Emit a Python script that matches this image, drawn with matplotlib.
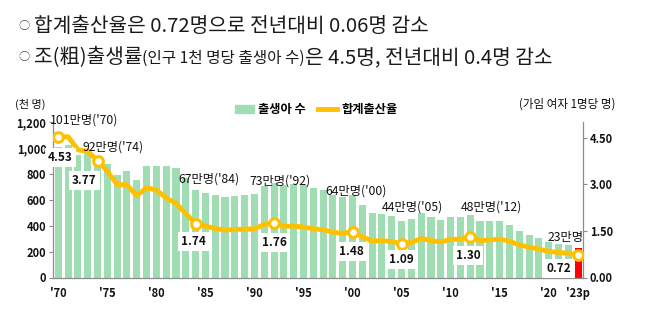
import matplotlib
matplotlib.use("Agg")
import matplotlib.pyplot as plt
from matplotlib.lines import Line2D
from matplotlib.patches import Patch

plt.rcParams['font.family'] = ['Noto Sans CJK KR', 'DejaVu Sans']

years = list(range(1970, 2024))
births = [1007, 1025, 952, 967, 922, 875, 797, 826, 751, 863,
          863, 867, 848, 770, 675, 656, 636, 624, 633, 639,
          650, 709, 731, 716, 721, 715, 691, 675, 641, 620,
          640, 559, 497, 495, 476, 438, 452, 496, 466, 445,
          470, 471, 485, 437, 435, 438, 406, 358, 327, 303,
          272, 261, 249, 230]
tfr = [4.53, 4.54, 4.12, 4.07, 3.77, 3.43, 3.00, 2.99, 2.64, 2.90,
       2.82, 2.57, 2.39, 2.06, 1.74, 1.66, 1.58, 1.53, 1.55, 1.56,
       1.57, 1.71, 1.76, 1.65, 1.66, 1.63, 1.57, 1.54, 1.46, 1.43,
       1.48, 1.31, 1.18, 1.19, 1.16, 1.09, 1.13, 1.26, 1.19, 1.15,
       1.23, 1.24, 1.30, 1.19, 1.21, 1.24, 1.17, 1.05, 0.98, 0.92,
       0.84, 0.81, 0.78, 0.72]
xtick_years = [1970, 1975, 1980, 1985, 1990, 1995, 2000, 2005, 2010, 2015, 2020, 2023]
xtick_labels = ["'70", "'75", "'80", "'85", "'90", "'95", "'00", "'05", "'10", "'15", "'20", "'23p"]
left_ticks = [0, 200, 400, 600, 800, 1000, 1200]
left_tick_labels = ['0', '200', '400', '600', '800', '1,000', '1,200']
right_ticks = [0.0, 1.5, 3.0, 4.5]
right_tick_labels = ['0.00', '1.50', '3.00', '4.50']
marked_years = [1970, 1974, 1984, 1992, 2000, 2005, 2012, 2023]
birth_labels = ["101만명('70)", "92만명('74)", "67만명('84)", "73만명('92)",
                "64만명('00)", "44만명('05)", "48만명('12)", "23만명"]
tfr_labels = ['4.53', '3.77', '1.74', '1.76', '1.48', '1.09', '1.30', '0.72']
# offsets (pixels) of annotation text centres from the marker
birth_off = [(26, 17), (16, 14), (13, 45), (6, 42), (4, 41), (11, 37), (21, 30), (-13, 18)]
tfr_off = [(2, -20), (-13, -20), (-2, -18), (0, -20), (-1, -20), (0, -16), (-2, -18), (-19, -13)]

green = '#a1ddb3'
gold = '#FFC000'
red = '#FF0000'
txt = '#111111'
spine_c = '#8c8c8c'

fig = plt.figure(figsize=(6.45, 3.22), dpi=100)
ax = fig.add_axes([53.4 / 645, 1 - 277.5 / 322, (583 - 53.4) / 645, 155 / 322])
ax2 = ax.twinx()

xs = list(range(len(years)))
colors = [green] * (len(years) - 1) + [red]
ax.bar(xs, births, width=0.72, color=colors, zorder=1)
ax.set_ylim(0, 1200)
ax.set_xlim(-0.5, len(years) - 0.5)
ax.set_yticks(left_ticks)
ax.set_yticklabels(left_tick_labels, fontsize=8, fontweight='bold', color=txt)
ax.set_xticks([years.index(y) for y in xtick_years])
ax.set_xticklabels(xtick_labels, fontsize=8, fontweight='bold', color=txt)
ax.tick_params(axis='x', length=0, pad=7)
ax.tick_params(axis='y', length=3, color=spine_c, pad=2)

ax2.plot(xs, tfr, color=gold, lw=3.5, solid_joinstyle='round', zorder=3)
mx = [years.index(y) for y in marked_years]
my = [tfr[i] for i in mx]
ax2.plot(mx, my, 'o', ms=7, mfc='white', mec=gold, mew=2.2, zorder=4, ls='none')
ax2.set_ylim(0, 5.0)
ax2.set_yticks(right_ticks)
ax2.set_yticklabels(right_tick_labels, fontsize=8, fontweight='bold', color=txt)
ax2.tick_params(axis='y', length=3, color=spine_c, pad=2)

for a in (ax, ax2):
    a.spines['top'].set_visible(False)
    for s in ('left', 'right', 'bottom'):
        a.spines[s].set_color(spine_c)
        a.spines[s].set_linewidth(0.9)
ax2.spines['left'].set_visible(False)
ax.spines['right'].set_visible(False)
ax2.spines['bottom'].set_visible(False)

for i, (xi, yi) in enumerate(zip(mx, my)):
    ax2.annotate(birth_labels[i], (xi, yi), xytext=birth_off[i], textcoords='offset pixels',
                 ha='center', va='center', fontsize=8.8, color=txt, zorder=6)
    ax2.annotate(tfr_labels[i], (xi, yi), xytext=tfr_off[i], textcoords='offset pixels',
                 ha='center', va='center', fontsize=8.5, fontweight='bold', color=txt, zorder=6,
                 bbox=dict(boxstyle='square,pad=0.25', fc='white', ec='none'))

fig.text(15 / 645, 1 - 104 / 322, '(천 명)', fontsize=8, color=txt, ha='left', va='center')
fig.text(615 / 645, 1 - 104 / 322, '(가임 여자 1명당 명)', fontsize=8.3, color=txt, ha='right', va='center')

handles = [Patch(color=green), Line2D([0], [0], color=gold, lw=3.5)]
fig.legend(handles, ['출생아 수', '합계출산율'], loc='center', bbox_to_anchor=(316 / 645, 1 - 110 / 322),
           ncol=2, frameon=False, handlelength=1.6, handleheight=0.6,
           columnspacing=1.0, handletextpad=0.3, prop={'weight': 'bold', 'size': 8.8})

# headline text
fig.canvas.draw()
renderer = fig.canvas.get_renderer()


def line_pieces(pieces, x0, y):
    x = x0
    for s, size in pieces:
        t = fig.text(x / 645, 1 - y / 322, s, fontsize=size, color='#1a1a1a', ha='left', va='baseline')
        bb = t.get_window_extent(renderer=renderer)
        x = bb.x1
    return x


fig.text(23.5 / 645, 1 - 26 / 322, '○', fontsize=8, color='#444444', ha='center', va='center')
fig.text(23.5 / 645, 1 - 57 / 322, '○', fontsize=8, color='#444444', ha='center', va='center')
line_pieces([('합계출산율은 0.72명으로 전년대비 0.06명 감소', 14.6)], 34, 32)
line_pieces([('조(粗)출생률', 14.6), ('(인구 1천 명당 출생아 수)', 11.3),
             ('은 4.5명, 전년대비 0.4명 감소', 14.6)], 34, 63)

fig.savefig('out.png', dpi=100)
